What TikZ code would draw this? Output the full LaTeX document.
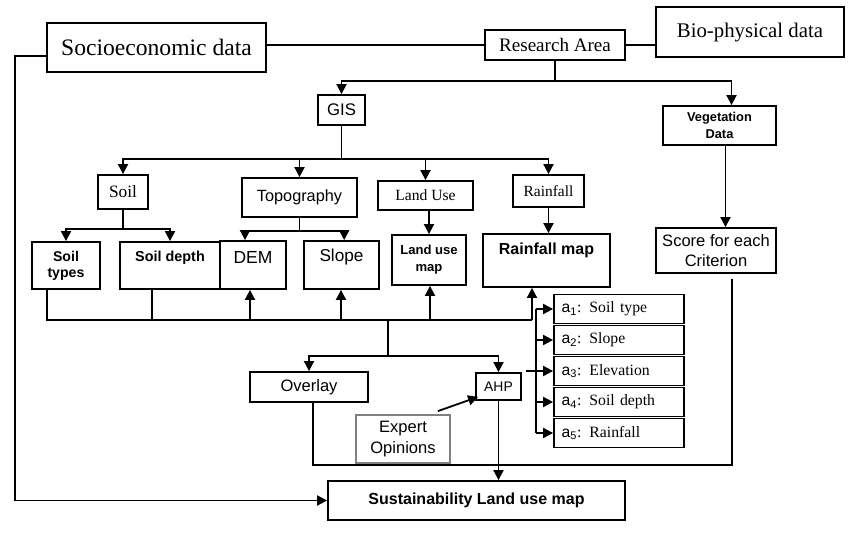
\documentclass[tikz,border=0pt]{standalone}
\usepackage{fontspec}
\setmainfont{Liberation Serif}
\setsansfont{Liberation Sans}
\usetikzlibrary{arrows.meta}
\newcommand\fs[2]{\fontsize{#1}{#2}\selectfont}
% \mybox{name}{x1}{y1}{x2}{y2}{options}{text}
\newcommand\mybox[7]{\node[box, minimum width={(#4-#2)*0.75pt}, minimum height={(#5-#3)*0.75pt}, #6] (#1) at ({(#2+#4)/2},{(#3+#5)/2}) {#7};}
\begin{document}
\begin{tikzpicture}[x=0.75pt,y=-0.75pt,
  box/.style={draw, line width=1.35pt, inner sep=0pt, align=center},
  ln/.style={line width=1.35pt},
  arr/.style={line width=1.35pt, -{Triangle[length=7.5pt,width=7.5pt]}},
  crit/.style={draw, line width=1.35pt, minimum width=97.5pt, minimum height=21.75pt,
    text width=86pt, inner xsep=5.75pt, inner ysep=0pt, align=left, font=\fs{11.8}{14}},
  ]
\useasboundingbox[fill=white] (0,0) rectangle (850,534);

% top row
\mybox{socio}{47}{27}{266}{76}{font=\fs{17.7}{20}, yshift=3pt}{Socioeconomic data}
\mybox{ra}{485}{30}{625}{60}{font=\fs{14.3}{16}}{Research Area}
\mybox{bio}{656}{10}{844}{60}{font=\fs{15.6}{18}, yshift=2pt}{Bio-physical data}

% second row
\mybox{gis}{318}{95}{365}{125}{font=\sffamily\fs{12.6}{14}}{GIS}
\mybox{veg}{663}{106}{776}{145}{font=\sffamily\bfseries\fs{9.6}{12.7}}{Vegetation\\Data}

% third row
\mybox{soil}{98}{175}{148}{209}{font=\fs{13}{15}}{Soil}
\mybox{topo}{242}{178}{357}{217}{font=\sffamily\fs{12.2}{14}}{Topography}
\mybox{lu}{378}{181}{473}{210}{font=\fs{11.7}{14}}{Land Use}
\mybox{rf}{513}{175}{584}{207}{font=\fs{11.6}{14}}{Rainfall}

% fourth row
\mybox{stypes}{32}{242}{100}{289}{font=\sffamily\bfseries\fs{10.6}{12}}{Soil\\types}
\mybox{sdepth}{120}{242}{220}{289}{}{}
\mybox{dem}{220}{241}{286}{289}{}{}
\mybox{slope}{304}{241}{379}{289}{}{}
\mybox{lum}{392}{235}{466}{285}{font=\sffamily\bfseries\fs{9.8}{12.7}}{Land use\\map}
\mybox{rfm}{483}{234}{610}{287}{}{}
\mybox{score}{656}{228}{776}{273}{font=\sffamily\fs{12.4}{15.5}}{Score for each\\Criterion}

\node[font=\sffamily\bfseries\fs{10.8}{12}] at ([yshift=6pt]sdepth.center) {Soil depth};
\node[font=\sffamily\fs{13.1}{15}] at ([yshift=6pt]dem.center) {DEM};
\node[font=\sffamily\fs{12.9}{15}] at ([yshift=6pt]slope.center) {Slope};
\node[font=\sffamily\bfseries\fs{12}{14}] at ([yshift=7.5pt]rfm.center) {Rainfall map};

% lower part
\mybox{overlay}{250}{372}{368}{402}{font=\sffamily\fs{12.4}{14}}{Overlay}
\mybox{ahp}{476}{373}{521}{400}{font=\sffamily\fs{10.4}{12}}{AHP}
\mybox{exp}{356}{415}{450}{463}{draw=black!50, font=\sffamily\fs{12.4}{16}}{Expert\\Opinions}
\mybox{sust}{328}{481}{625}{520}{font=\sffamily\bfseries\fs{12}{14}}{Sustainability Land use map}

% criteria
\node[crit] (c1) at (619,309) {{\sffamily a\textsubscript{1}}: Soil type};
\node[crit] (c2) at (619,340) {{\sffamily a\textsubscript{2}}: Slope};
\node[crit] (c3) at (619,371) {{\sffamily a\textsubscript{3}}: Elevation};
\node[crit] (c4) at (619,402) {{\sffamily a\textsubscript{4}}: Soil depth};
\node[crit] (c5) at (619,433) {{\sffamily a\textsubscript{5}}: Rainfall};

% connectors top
\draw[ln] (ra.west) -- (ra.west -| socio.east);
\draw[ln] (ra.east) -- (ra.east -| bio.west);
\draw[arr] ([yshift=-6.4pt]socio.west) -- ++(-31,0) |- (sust.west);

\draw[ln] (ra.south) -- ++(0,20) coordinate (j1);
\draw[arr] (j1) -| (gis.north);
\coordinate (vegtop) at ([xshift=9pt]veg.north);
\draw[arr] (j1) -| (vegtop);

\draw[ln] (gis.south) -- ++(0,33) coordinate (j2);
\draw[arr] (j2) -| (soil.north);
\draw[arr] (j2) -| (topo.north);
\draw[arr] (j2) -| (lu.north);
\draw[arr] (j2) -| (rf.north);

\draw[ln] (soil.south) -- ++(0,19) coordinate (j3);
\draw[arr] (j3) -| (stypes.north);
\draw[arr] (j3) -| (sdepth.north);

\coordinate (demtop) at ([xshift=-6pt]dem.north);
\coordinate (slopetop) at ([xshift=2pt]slope.north);
\draw[ln] (topo.south) -- ++(0,13) coordinate (j4);
\draw[arr] (j4) -| (demtop);
\draw[arr] (j4) -| (slopetop);

\draw[arr] (lum.north |- lu.south) -- (lum.north);
\draw[arr] (rf.south) -- (rf.south |- rfm.north);
\coordinate (vegb) at ([xshift=4.5pt]veg.south);
\draw[arr] (vegb) -- (vegb |- score.north);

% bus
\coordinate (b1) at (47,320);
\coordinate (b2) at (152,320);
\coordinate (b3) at (250,320);
\coordinate (b4) at (341,320);
\coordinate (b5) at (430,320);
\coordinate (b6) at (532,320);
\coordinate (bm) at (388,320);
\draw[ln] (b1 |- stypes.south) -- (b1) -- (b6);
\draw[ln] (b2 |- sdepth.south) -- (b2);
\draw[arr] (b3) -- (b3 |- dem.south);
\draw[arr] (b4) -- (b4 |- slope.south);
\draw[arr] (b5) -- (b5 |- lum.south);
\draw[arr] (b6) -- (b6 |- rfm.south);
\draw[ln] (bm) -- ++(0,36) coordinate (j5);
\draw[arr] (j5) -| (overlay.north);
\draw[arr] (j5) -| (ahp.north);

% criteria arrows
\coordinate (cv) at (536,0);
\draw[ln] (cv |- c1.west) -- (cv |- c5.west);
\foreach \c in {c1,c2,c4,c5} { \draw[arr] (cv |- \c.west) -- (\c.west); }
\coordinate (ahpr) at ([xshift=3pt]ahp.east);
\draw[arr] (ahpr |- c3.west) -- (c3.west);

% expert -> AHP
\draw[arr] ([xshift=-9.75pt,yshift=2.25pt]exp.north east) -- ([xshift=2.25pt,yshift=3pt]ahp.south west);

% overlay -> score loop
\coordinate (ovb) at ([xshift=3pt]overlay.south);
\coordinate (ybot) at (0,465);
\coordinate (sc) at ([xshift=12pt,yshift=-4pt]score.south);
\draw[ln] (ovb) -- (ovb |- ybot) -| (sc);

% AHP -> sustainability
\draw[arr] (ahp.south) -- (ahp.south |- sust.north);
\end{tikzpicture}
\end{document}
